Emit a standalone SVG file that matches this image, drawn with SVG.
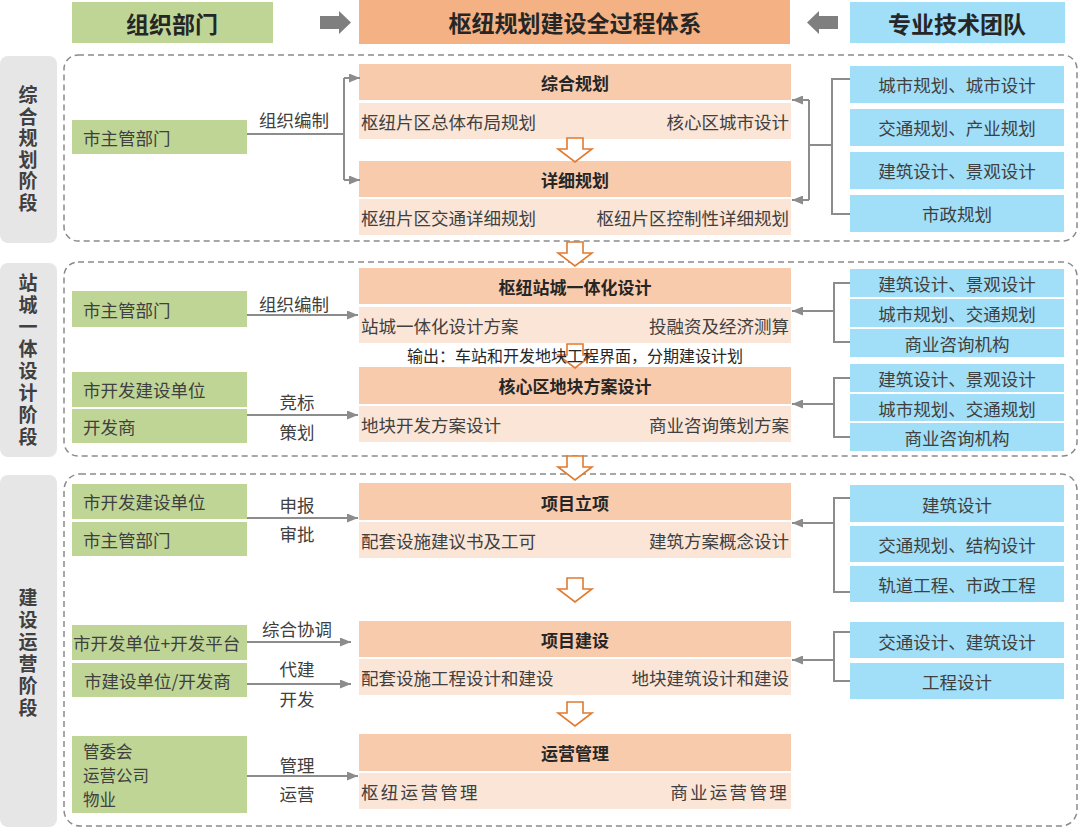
<svg xmlns="http://www.w3.org/2000/svg" width="1080" height="828" viewBox="0 0 1080 828">
<style>
text{font-family:"Noto Sans CJK SC","Noto Sans CJK JP",sans-serif;dominant-baseline:central;fill:#404040}
.hd{font-size:23px;font-weight:bold;fill:#262626;text-anchor:middle}
.stg{font-size:19px;font-weight:bold;fill:#404040;text-anchor:middle;writing-mode:vertical-rl;glyph-orientation-vertical:0}
.t{font-size:17.5px}
.c{text-anchor:middle}
.r{text-anchor:end}
.b{font-size:17px;font-weight:bold;fill:#262626;text-anchor:middle}
.o{font-size:16px;text-anchor:middle;fill:#262626}
.green{fill:#bfd596}
.blue{fill:#a0dff7}
.dark{fill:#f8cbad}
.light{fill:#fbe5d6}
.gray{fill:#e7e6e6}
.dash{fill:none;stroke:#8a8a8a;stroke-width:1.5;stroke-dasharray:6 4}
.ln{fill:none;stroke:#8c8c8c;stroke-width:2}
.ar{stroke:#8c8c8c;stroke-width:2;marker-end:url(#ah)}
.hol{fill:#fff;stroke:#e07b30;stroke-width:1.6;stroke-linejoin:miter}
</style>
<defs>
<marker id="ah" markerWidth="11" markerHeight="9" refX="11" refY="4.5" orient="auto" markerUnits="userSpaceOnUse"><path d="M0,0 L11,4.5 L0,9 Z" fill="#8c8c8c"/></marker>
<path id="hollow" d="M-8,0 L8,0 L8,11 L17,11 L0,24 L-17,11 L-8,11 Z"/>
</defs>

<!-- header -->
<g id="hdr-org"><rect x="72" y="2" width="201" height="41" class="green"/><text x="172" y="23" class="hd">组织部门</text></g>
<g id="hdr-main"><rect x="359" y="0" width="431" height="44" fill="#f4b183"/><text x="575" y="22" class="hd">枢纽规划建设全过程体系</text></g>
<g id="hdr-team"><rect x="850" y="2" width="215" height="41" class="blue"/><text x="957" y="23" class="hd">专业技术团队</text></g>
<g id="hdr-arrows" fill="#7f7f7f">
<path d="M320,16 L339,16 L339,11 L351,22.5 L339,34 L339,29 L320,29 Z"/>
<path d="M838,16 L819,16 L819,11 L807,22.5 L819,34 L819,29 L838,29 Z"/>
</g>

<!-- stage frames -->
<g id="stages">
<rect x="0" y="56" width="57" height="187" rx="8" class="gray"/>
<text x="28" y="150" class="stg" letter-spacing="2.5">综合规划阶段</text>
<rect x="0" y="263" width="57" height="194" rx="8" class="gray"/>
<text x="28" y="361" class="stg" letter-spacing="3">站城一体设计阶段</text>
<rect x="0" y="475" width="57" height="352" rx="8" class="gray"/>
<text x="28" y="654" class="stg" letter-spacing="3">建设运营阶段</text>
<rect x="64" y="55" width="1013" height="186" rx="14" class="dash"/>
<rect x="64" y="262" width="1013" height="194" rx="14" class="dash"/>
<rect x="64" y="474" width="1013" height="352" rx="16" class="dash"/>
</g>

<!-- center column -->
<g id="n-zhgh"><rect x="359" y="64" width="432" height="36" class="dark"/><text x="575" y="82" class="b">综合规划</text>
<rect x="359" y="103" width="432" height="36" class="light"/><text x="361" y="121" class="t">枢纽片区总体布局规划</text><text x="789" y="121" class="t r">核心区城市设计</text></g>
<g id="n-xxgh"><rect x="359" y="161" width="432" height="36" class="dark"/><text x="575" y="179" class="b">详细规划</text>
<rect x="359" y="199" width="432" height="36" class="light"/><text x="361" y="217" class="t">枢纽片区交通详细规划</text><text x="789" y="217" class="t r">枢纽片区控制性详细规划</text></g>
<g id="n-zcyth"><rect x="359" y="268" width="432" height="36" class="dark"/><text x="575" y="286" class="b">枢纽站城一体化设计</text>
<rect x="359" y="307" width="432" height="36" class="light"/><text x="361" y="325" class="t">站城一体化设计方案</text><text x="789" y="325" class="t r">投融资及经济测算</text></g>
<g id="n-hxq"><rect x="359" y="367" width="432" height="37" class="dark"/><text x="575" y="385" class="b">核心区地块方案设计</text>
<rect x="359" y="406" width="432" height="36" class="light"/><text x="361" y="424" class="t">地块开发方案设计</text><text x="789" y="424" class="t r">商业咨询策划方案</text></g>
<g id="n-xmlx"><rect x="359" y="483" width="432" height="37" class="dark"/><text x="575" y="502" class="b">项目立项</text>
<rect x="359" y="522" width="432" height="36" class="light"/><text x="361" y="540" class="t">配套设施建议书及工可</text><text x="789" y="540" class="t r">建筑方案概念设计</text></g>
<g id="n-xmjs"><rect x="359" y="621" width="432" height="36" class="dark"/><text x="575" y="639" class="b">项目建设</text>
<rect x="359" y="659" width="432" height="36" class="light"/><text x="361" y="677" class="t">配套设施工程设计和建设</text><text x="789" y="677" class="t r">地块建筑设计和建设</text></g>
<g id="n-yygl"><rect x="359" y="734" width="432" height="37" class="dark"/><text x="575" y="752" class="b">运营管理</text>
<rect x="359" y="773" width="432" height="36" class="light"/><text x="361" y="791" class="t" letter-spacing="2.3">枢纽运营管理</text><text x="789" y="791" class="t r" letter-spacing="2.3">商业运营管理</text></g>

<!-- hollow flow arrows -->
<g id="flow-arrows" class="hol">
<use href="#hollow" x="575" y="138"/>
<use href="#hollow" x="575" y="242"/>
<use href="#hollow" x="575" y="344"/>
<use href="#hollow" x="575" y="456"/>
<use href="#hollow" x="575" y="578"/>
<use href="#hollow" x="575" y="702"/>
</g>
<text id="output-note" x="575" y="355" class="o">输出：车站和开发地块工程界面，分期建设计划</text>

<!-- left organisations -->
<g id="o1"><rect x="72" y="120" width="175" height="34" class="green"/><text x="83" y="137" class="t">市主管部门</text></g>
<g id="o2"><rect x="72" y="291" width="175" height="36" class="green"/><text x="83" y="309" class="t">市主管部门</text></g>
<g id="o3"><rect x="72" y="372" width="175" height="35" class="green"/><text x="83" y="389" class="t">市开发建设单位</text></g>
<g id="o4"><rect x="72" y="409" width="175" height="34" class="green"/><text x="83" y="426" class="t">开发商</text></g>
<g id="o5"><rect x="72" y="484" width="175" height="35" class="green"/><text x="83" y="501" class="t">市开发建设单位</text></g>
<g id="o6"><rect x="72" y="522" width="175" height="34" class="green"/><text x="83" y="539" class="t">市主管部门</text></g>
<g id="o7"><rect x="72" y="625" width="175" height="35" class="green"/><text x="73" y="642" class="t">市开发单位+开发平台</text></g>
<g id="o8"><rect x="72" y="663" width="175" height="34" class="green"/><text x="84" y="680" class="t">市建设单位/开发商</text></g>
<g id="o9"><rect x="72" y="736" width="175" height="77" class="green"/><text x="83" y="751" font-size="16.5">管委会</text><text x="83" y="775" font-size="16.5">运营公司</text><text x="83" y="799" font-size="16.5">物业</text></g>

<!-- right teams -->
<g id="t1"><rect x="850" y="66" width="214" height="37" class="blue"/><text x="957" y="84" class="t c">城市规划、城市设计</text></g>
<g id="t2"><rect x="850" y="109" width="214" height="37" class="blue"/><text x="957" y="127" class="t c">交通规划、产业规划</text></g>
<g id="t3"><rect x="850" y="152" width="214" height="37" class="blue"/><text x="957" y="170" class="t c">建筑设计、景观设计</text></g>
<g id="t4"><rect x="850" y="195" width="214" height="37" class="blue"/><text x="957" y="213" class="t c">市政规划</text></g>
<g id="t5"><rect x="850" y="269" width="214" height="28" class="blue"/><text x="957" y="283" class="t c">建筑设计、景观设计</text></g>
<g id="t6"><rect x="850" y="299" width="214" height="28" class="blue"/><text x="957" y="313" class="t c">城市规划、交通规划</text></g>
<g id="t7"><rect x="850" y="329" width="214" height="28" class="blue"/><text x="957" y="343" class="t c">商业咨询机构</text></g>
<g id="t8"><rect x="850" y="364" width="214" height="28" class="blue"/><text x="957" y="378" class="t c">建筑设计、景观设计</text></g>
<g id="t9"><rect x="850" y="394" width="214" height="27" class="blue"/><text x="957" y="408" class="t c">城市规划、交通规划</text></g>
<g id="t10"><rect x="850" y="423" width="214" height="28" class="blue"/><text x="957" y="437" class="t c">商业咨询机构</text></g>
<g id="t11"><rect x="850" y="485" width="214" height="37" class="blue"/><text x="957" y="504" class="t c">建筑设计</text></g>
<g id="t12"><rect x="850" y="526" width="214" height="36" class="blue"/><text x="957" y="544" class="t c">交通规划、结构设计</text></g>
<g id="t13"><rect x="850" y="566" width="214" height="36" class="blue"/><text x="957" y="584" class="t c">轨道工程、市政工程</text></g>
<g id="t14"><rect x="850" y="622" width="214" height="36" class="blue"/><text x="957" y="641" class="t c">交通设计、建筑设计</text></g>
<g id="t15"><rect x="850" y="663" width="214" height="36" class="blue"/><text x="957" y="681" class="t c">工程设计</text></g>

<!-- connectors -->
<g id="connectors">
<path class="ln" d="M247,134 H344 M344,78 V180"/>
<line class="ar" x1="344" y1="78" x2="360" y2="78"/>
<line class="ar" x1="344" y1="180" x2="360" y2="180"/>
<line class="ar" x1="247" y1="315" x2="358" y2="315"/>
<line class="ar" x1="247" y1="415" x2="358" y2="415"/>
<line class="ar" x1="247" y1="518" x2="358" y2="518"/>
<line class="ar" x1="247" y1="642" x2="351" y2="642"/>
<line class="ar" x1="247" y1="684" x2="351" y2="684"/>
<line class="ar" x1="247" y1="776" x2="358" y2="776"/>
<path class="ln" d="M850,79 H832 V214 H850 M832,145 H809 M809,100 V200"/>
<line class="ar" x1="809" y1="100" x2="792" y2="100"/>
<line class="ar" x1="809" y1="200" x2="792" y2="200"/>
<path class="ln" d="M850,283 H834 V342 H850"/>
<line class="ar" x1="834" y1="311" x2="792" y2="311"/>
<path class="ln" d="M850,378 H834 V437 H850"/>
<line class="ar" x1="834" y1="404" x2="792" y2="404"/>
<path class="ln" d="M850,498 H834 V592 H850"/>
<line class="ar" x1="834" y1="523" x2="792" y2="523"/>
<path class="ln" d="M850,632 H834 V681 H850"/>
<line class="ar" x1="834" y1="660" x2="792" y2="660"/>
</g>

<!-- connector labels -->
<g id="labels" class="t">
<text x="294" y="119" class="c">组织编制</text>
<text x="294" y="303" class="c">组织编制</text>
<text x="297" y="401" class="c">竞标</text>
<text x="297" y="431" class="c">策划</text>
<text x="297" y="504" class="c">申报</text>
<text x="297" y="533" class="c">审批</text>
<text x="297" y="628" class="c">综合协调</text>
<text x="297" y="668" class="c">代建</text>
<text x="297" y="698" class="c">开发</text>
<text x="297" y="764" class="c">管理</text>
<text x="297" y="793" class="c">运营</text>
</g>
</svg>
